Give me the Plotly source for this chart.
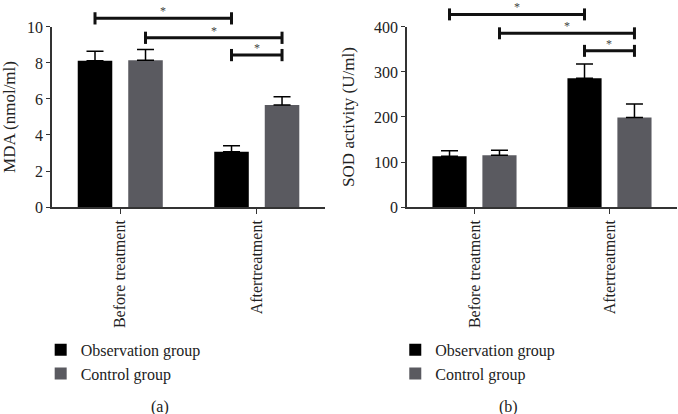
import plotly.graph_objects as go

# ---------------------- data ----------------------
categories = ["Before treatment", "Aftertreatment"]
groups = ["Observation group", "Control group"]
colors = ["#000000", "#5a5a60"]

mda_obs = [8.13, 3.07]
mda_obs_err = [0.52, 0.33]
mda_ctrl = [8.15, 5.67]
mda_ctrl_err = [0.60, 0.46]

sod_obs = [113, 286]
sod_obs_err = [12, 32]
sod_ctrl = [115, 199]
sod_ctrl_err = [11, 30]

# significance brackets: (category, group) -> (category, group), height
mda_brackets = [((0, 0), (1, 0), 10.48), ((0, 1), (1, 1), 9.40), ((1, 0), (1, 1), 8.44)]
sod_brackets = [((0, 0), (1, 0), 428), ((0, 1), (1, 1), 386), ((1, 0), (1, 1), 347)]

FONT = "Liberation Serif, Times New Roman, serif"
TXT = "#222222"
BAR_W = 0.253
CENTER = [-0.185, 0.185]   # bar centre offset from category position

fig = go.Figure()


def add_panel(fig, xa, ya, ya_top, series, errs, brackets, cap, legend):
    xs = list(range(len(categories)))
    for g, (vals, err) in enumerate(zip(series, errs)):
        fig.add_trace(go.Bar(
            x=xs, y=vals, name=groups[g], xaxis=xa, yaxis=ya,
            width=BAR_W, offset=CENTER[g] - BAR_W / 2,
            marker=dict(color=colors[g], line=dict(width=0)),
            error_y=dict(type="data", array=err, arrayminus=[0] * len(err), symmetric=False,
                         color="#000000", thickness=1.5, width=8.5),
            legend=legend,
        ))
    # brackets go on a hidden axis with the same scale that reaches the top of the page
    for (c1, g1), (c2, g2), h in brackets:
        x1 = c1 + CENTER[g1]
        x2 = c2 + CENTER[g2]
        fig.add_trace(go.Scatter(
            x=[x1, x1, None, x1, x2, None, x2, x2],
            y=[h + cap, h - cap, None, h, h, None, h + cap, h - cap],
            mode="lines", line=dict(color="#111111", width=3),
            xaxis=xa, yaxis=ya_top, showlegend=False, hoverinfo="skip",
        ))
        fig.add_annotation(x=(x1 + x2) / 2, y=h, xref=xa, yref=ya_top, text="*",
                           showarrow=False, yshift=7, font=dict(size=12, color="#444444"))


add_panel(fig, "x", "y", "y3", [mda_obs, mda_ctrl], [mda_obs_err, mda_ctrl_err],
          mda_brackets, 0.34, "legend")
add_panel(fig, "x2", "y2", "y4", [sod_obs, sod_ctrl], [sod_obs_err, sod_ctrl_err],
          sod_brackets, 13.3, "legend2")


def axis_style(ticklen=4):
    return dict(showline=True, linecolor="#333333", linewidth=1.5, ticks="outside",
                tickcolor="#333333", ticklen=ticklen, tickwidth=1.2, showgrid=False,
                zeroline=False, automargin=False,
                tickfont=dict(family=FONT, size=16, color=TXT))


ydom = [0.5, 0.9348]
topdom = [0.5, 1.0]
fig.update_layout(
    width=678, height=414,
    margin=dict(l=0, r=0, t=0, b=0),
    paper_bgcolor="white", plot_bgcolor="rgba(0,0,0,0)",
    font=dict(family=FONT, size=16, color=TXT),
    barmode="overlay",
    xaxis=dict(domain=[0.0767, 0.4794], range=[-0.5, 1.5], tickvals=[0, 1],
               ticktext=categories, tickangle=-90, anchor="y", **axis_style(5)),
    yaxis=dict(domain=ydom, range=[0, 10], dtick=2, anchor="x",
               title=dict(text="MDA (nmol/ml)", font=dict(family=FONT, size=17)), **axis_style()),
    yaxis3=dict(domain=topdom, range=[0, 11.5], anchor="x", visible=False),
    xaxis2=dict(domain=[0.6003, 0.9985], range=[-0.5, 1.5], tickvals=[0, 1],
                ticktext=categories, tickangle=-90, anchor="y2", **axis_style(5)),
    yaxis2=dict(domain=ydom, range=[0, 400], dtick=100, anchor="x2",
                title=dict(text="SOD activity (U/ml)", font=dict(family=FONT, size=17)), **axis_style()),
    yaxis4=dict(domain=topdom, range=[0, 460], anchor="x2", visible=False),
    legend=dict(x=0.060, y=0.196, xanchor="left", yanchor="top", bgcolor="rgba(0,0,0,0)",
                font=dict(family=FONT, size=16, color=TXT), tracegroupgap=0),
    legend2=dict(x=0.583, y=0.196, xanchor="left", yanchor="top", bgcolor="rgba(0,0,0,0)",
                 font=dict(family=FONT, size=16, color=TXT), tracegroupgap=0),
)

fig.add_annotation(x=160 / 678, y=0.017, xref="paper", yref="paper", text="(a)",
                   xanchor="center", yanchor="middle",
                   showarrow=False, font=dict(family=FONT, size=16, color=TXT))
fig.add_annotation(x=508 / 678, y=0.017, xref="paper", yref="paper", text="(b)",
                   xanchor="center", yanchor="middle",
                   showarrow=False, font=dict(family=FONT, size=16, color=TXT))

fig.write_html("out.html", config={"displayModeBar": False},
               post_script="document.body.style.margin='0px';")
